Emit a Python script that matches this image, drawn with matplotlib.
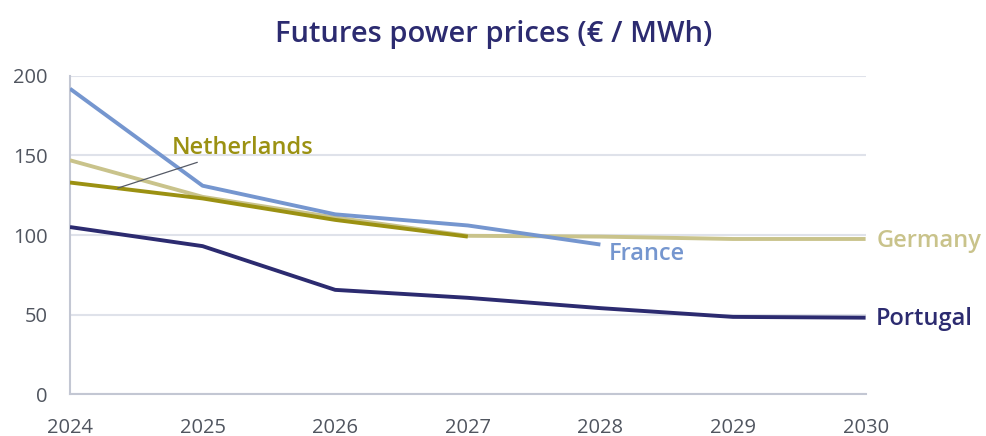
import matplotlib
matplotlib.use("Agg")
import matplotlib.pyplot as plt

years = [2024, 2025, 2026, 2027, 2028, 2029, 2030]
france_years = [2024, 2025, 2026, 2027, 2028]
france = [192, 131, 113, 106, 94]
netherlands_years = [2024, 2025, 2026, 2027]
netherlands = [133, 123, 109.5, 99]
germany = [147, 124, 111, 99.5, 99, 97.5, 97.5]
portugal = [105, 93, 65.5, 60.5, 54, 48.5, 48]
yticks = [0, 50, 100, 150, 200]

plt.rcParams['font.family'] = ['Open Sans', 'DejaVu Sans']

C_FR = '#7596cf'
C_NL = '#9b9112'
C_DE = '#c9c38b'
C_PT = '#2c2b70'
C_TICK = '#50555f'

fig = plt.figure(figsize=(9.87, 4.36), dpi=100)
ax = fig.add_axes([0.0709, 0.0963, 0.877 - 0.0709, 0.8257 - 0.0963])

LW = 2.8
ax.plot(years, germany, color=C_DE, lw=LW, solid_capstyle='butt', zorder=3)
ax.plot(france_years, france, color=C_FR, lw=LW, solid_capstyle='butt', zorder=4)
ax.plot(netherlands_years, netherlands, color=C_NL, lw=LW, solid_capstyle='butt', zorder=5)
ax.plot(years, portugal, color=C_PT, lw=LW, solid_capstyle='butt', zorder=4)

ax.set_xlim(2024, 2030)
ax.set_ylim(0, 200)
ax.set_xticks(years)
ax.set_xticklabels([str(y) for y in years])
ax.set_yticks(yticks)
ax.tick_params(axis='both', length=0, labelsize=14.5, colors=C_TICK)
ax.tick_params(axis='x', pad=17)
ax.tick_params(axis='y', pad=16)

ax.grid(axis='y', color='#dfe2ea', lw=1.5)
ax.set_axisbelow(True)
for s in ['top', 'right']:
    ax.spines[s].set_visible(False)
for s in ['left', 'bottom']:
    ax.spines[s].set_color('#c3c7d3')
    ax.spines[s].set_linewidth(1.5)

lab_kw = dict(fontsize=17, fontweight='semibold', va='center', ha='left')
ax.text(2030.08, germany[-1] - 1.5, 'Germany', color=C_DE, **lab_kw)
ax.text(2030.08, portugal[-1] - 1, 'Portugal', color=C_PT, **lab_kw)
ax.text(2028.06, france[-1] - 6, 'France', color=C_FR, **lab_kw)
ax.annotate('Netherlands', xy=(2024.36, 129.5), xytext=(2024.77, 155),
            color=C_NL, fontsize=17, fontweight='semibold', va='center', ha='left',
            arrowprops=dict(arrowstyle='-', color='#555a66', lw=0.9,
                            shrinkA=0, shrinkB=0),
            zorder=6)

fig.text(0.5, 0.922, 'Futures power prices (€ / MWh)', ha='center', va='center',
         fontsize=21, fontweight='semibold', color=C_PT)

fig.savefig('out.png', dpi=100)
